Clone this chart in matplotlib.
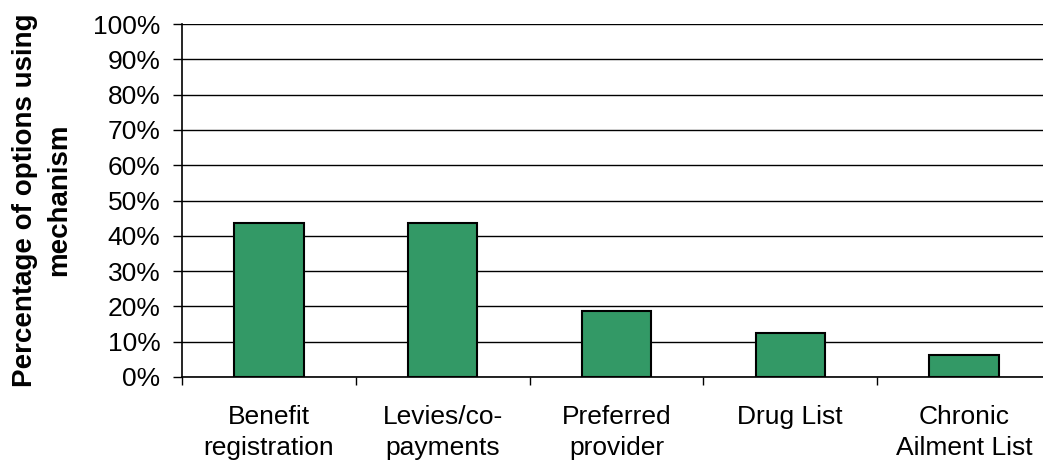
import matplotlib
matplotlib.use("Agg")
import matplotlib.pyplot as plt
from matplotlib.ticker import PercentFormatter, FixedLocator, NullFormatter

categories = ["Benefit\nregistration", "Levies/co-\npayments", "Preferred\nprovider",
              "Drug List", "Chronic\nAilment List"]
values = [43.75, 43.75, 18.75, 12.5, 6.25]
yticks = list(range(0, 101, 10))

plt.rcParams['font.family'] = ['Liberation Sans', 'DejaVu Sans']
FS = 19

W, H = 1043, 463
fig = plt.figure(figsize=(W / 100, H / 100), dpi=100)
left, right, top, bottom = 182, 1051, 24, 377
ax = fig.add_axes([left / W, 1 - bottom / H, (right - left) / W, (bottom - top) / H])

x = list(range(len(categories)))
ax.bar(x, values, width=0.40, color="#339966", edgecolor="black", linewidth=1.5, zorder=3)

ax.set_xlim(-0.5, len(categories) - 0.5)
ax.set_ylim(0, 100)
ax.set_yticks(yticks)
ax.yaxis.set_major_formatter(PercentFormatter(decimals=0))
ax.yaxis.grid(True, color="black", linewidth=1.0, zorder=0)
ax.set_axisbelow(True)

# category labels centered, ticks between categories
ax.set_xticks(x)
ax.set_xticklabels(categories, fontsize=FS, linespacing=1.36)
ax.tick_params(axis='x', which='major', length=0, pad=20)
ax.xaxis.set_minor_locator(FixedLocator([i + 0.5 for i in range(-1, len(categories))]))
ax.xaxis.set_minor_formatter(NullFormatter())
ax.tick_params(axis='x', which='minor', length=6, width=1, direction='out', color='black')
ax.tick_params(axis='y', length=6.5, width=1, direction='out', labelsize=FS, pad=9)

for s in ['top', 'right']:
    ax.spines[s].set_visible(False)
ax.spines['left'].set_linewidth(1.2)
ax.spines['bottom'].set_linewidth(1.2)
ax.spines['left'].set_color('black')
ax.spines['bottom'].set_color('black')

fig.text(42 / W, 1 - 200 / H, "Percentage of options using\nmechanism", rotation=90,
         ha='center', va='center', fontsize=20, fontweight='bold', linespacing=1.4)

fig.savefig("out.png", dpi=100)
